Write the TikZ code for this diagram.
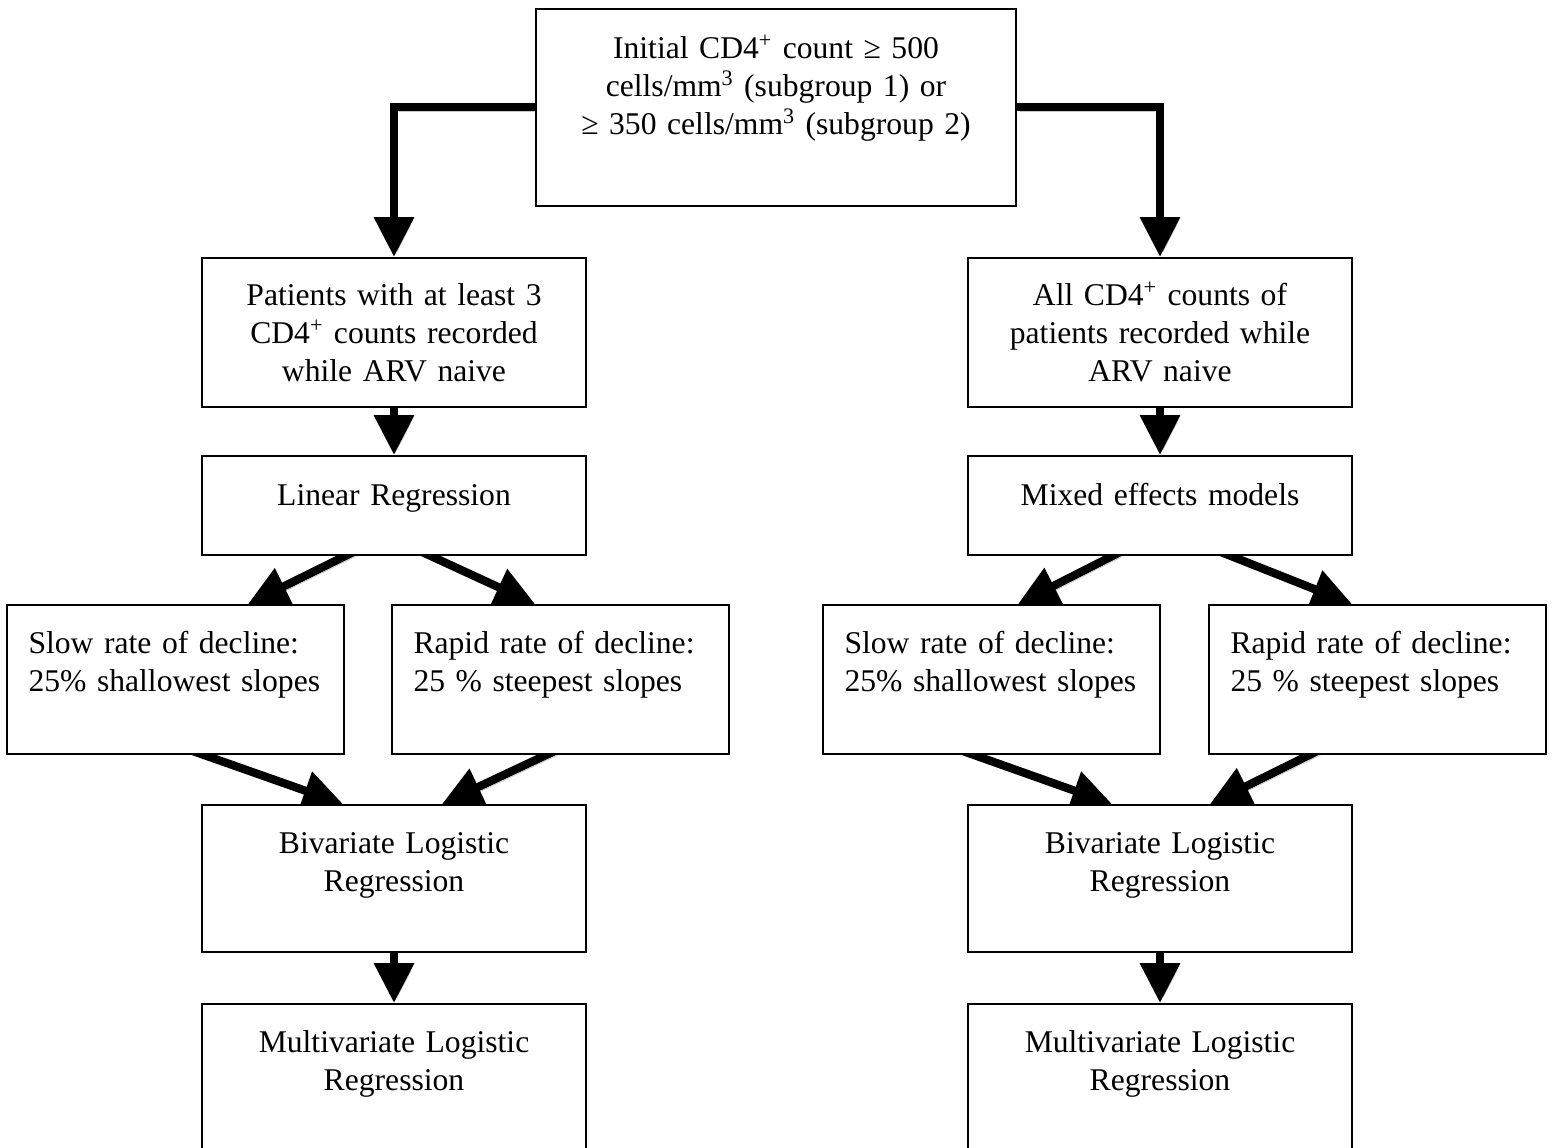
\documentclass[tikz,border=0pt]{standalone}
\usepackage{fontspec}
\setmainfont{Liberation Serif}
\usetikzlibrary{calc,arrows.meta,backgrounds}

\begin{document}
\begin{tikzpicture}[x=0.02cm,y=-0.02cm,
    box/.style={draw,fill=white,line width=0.95pt,anchor=north,inner xsep=0pt,inner ysep=0pt,
      align=center,text width=7.68cm,font=\fontsize{18}{21.6}\selectfont},
    sidebox/.style={box,align=left,inner xsep=0.43cm,text width=5.88cm,text height=0.98cm,text depth=2cm},
    arr/.style={line width=0.165cm,-{Triangle[length=0.8cm,width=0.77cm]},shorten <=-0.25cm,
      preaction={draw=black!22,transform canvas={shift={(0.06cm,-0.08cm)}}}}]
    \useasboundingbox (0,0) rectangle (1554,1148);
    \node[box,text width=9.6cm,text height=1cm,text depth=2.94cm] (init) at (776,8)
      {Initial CD4\textsuperscript{+} count ≥ 500\\cells/mm\textsuperscript{3} (subgroup 1) or\\≥ 350 cells/mm\textsuperscript{3} (subgroup 2)};
    \node[box,text height=0.96cm,text depth=2.02cm] (pat) at (394,257)
      {Patients with at least 3\\CD4\textsuperscript{+} counts recorded\\while ARV naive};
    \node[box,text height=0.96cm,text depth=2.02cm] (allcd) at (1160,257)
      {All CD4\textsuperscript{+} counts of\\patients recorded while\\ARV naive};
    \node[box,text height=1cm,text depth=0.98cm] (lin) at (394,455) {Linear Regression};
    \node[box,text height=1cm,text depth=0.98cm] (mix) at (1160,455) {Mixed effects models};
    \node[sidebox] (slowL) at (175.5,604) {Slow rate of decline:\\25\% shallowest slopes};
    \node[sidebox] (rapidL) at (560.5,604) {Rapid rate of decline:\\25 \% steepest slopes};
    \node[sidebox] (slowR) at (991.5,604) {Slow rate of decline:\\25\% shallowest slopes};
    \node[sidebox] (rapidR) at (1377.5,604) {Rapid rate of decline:\\25 \% steepest slopes};
    \node[box,text height=0.98cm,text depth=1.96cm] (bivL) at (394,804) {Bivariate Logistic\\Regression};
    \node[box,text height=0.98cm,text depth=1.96cm] (bivR) at (1160,804) {Bivariate Logistic\\Regression};
    \node[box,text height=0.98cm,text depth=2.4cm] (mulL) at (394,1003) {Multivariate Logistic\\Regression};
    \node[box,text height=0.98cm,text depth=2.4cm] (mulR) at (1160,1003) {Multivariate Logistic\\Regression};
    \begin{scope}[on background layer]
      \fill[white] (0,0) rectangle (1554,1148);
      \draw[arr,shorten <=0pt] (init.west) -| (pat.north);
      \draw[arr,shorten <=0pt] (init.east) -| (allcd.north);
      \draw[arr] (pat.south) -- (lin.north);
      \draw[arr] (allcd.south) -- (mix.north);
      \draw[arr] ($(lin.south)+(-48,0)$) -- ($(slowL.north)+(72.5,0)$);
      \draw[arr] ($(lin.south)+(36,0)$) -- ($(rapidL.north)+(-25.5,0)$);
      \draw[arr] ($(mix.south)+(-47,0)$) -- ($(slowR.north)+(26.5,0)$);
      \draw[arr] ($(mix.south)+(70,0)$) -- ($(rapidR.north)+(-25.5,0)$);
      \draw[arr] ($(slowL.south)+(27.5,0)$) -- ($(bivL.north)+(-51,0)$);
      \draw[arr] ($(rapidL.south)+(-13.5,0)$) -- ($(bivL.north)+(48,0)$);
      \draw[arr] ($(slowR.south)+(-18.5,0)$) -- ($(bivR.north)+(-48,0)$);
      \draw[arr] ($(rapidR.south)+(-67.5,0)$) -- ($(bivR.north)+(50,0)$);
      \draw[arr] (bivL.south) -- (mulL.north);
      \draw[arr] (bivR.south) -- (mulR.north);
    \end{scope}
  \end{tikzpicture}
\end{document}
